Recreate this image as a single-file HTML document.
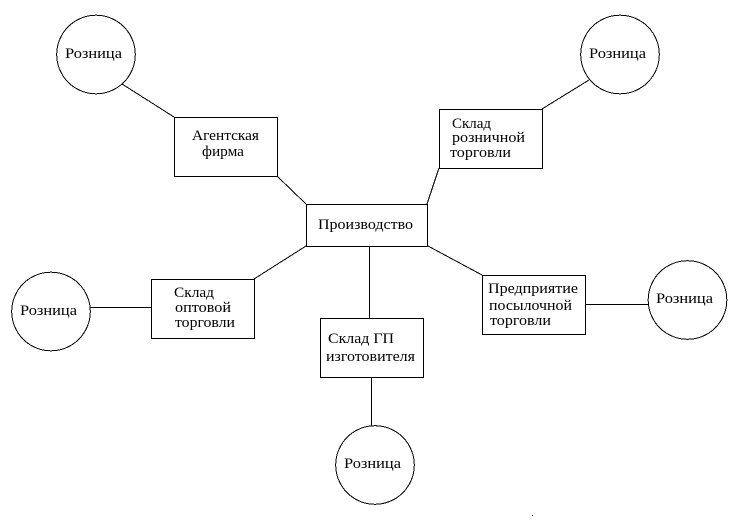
<!DOCTYPE html>
<html lang="ru">
<head>
<meta charset="utf-8">
<title>Диаграмма</title>
<style>
html,body{margin:0;padding:0;background:#fff;}
svg{display:block;}
text{font-family:"Liberation Serif","Noto Serif CJK SC",serif;font-size:14.5px;fill:#000;}
.s{fill:#fff;stroke:#000;stroke-width:1;shape-rendering:crispEdges;}
.c{fill:#fff;stroke:#000;stroke-width:1;shape-rendering:crispEdges;}
.l{stroke:#000;stroke-width:1;fill:none;shape-rendering:crispEdges;}
</style>
</head>
<body>
<svg width="738" height="522" viewBox="0 0 738 522" xmlns="http://www.w3.org/2000/svg">
<rect width="738" height="522" fill="#fff"/>

<line class="l" x1="122" y1="84" x2="174" y2="117"/>
<line class="l" x1="277" y1="176" x2="306" y2="204"/>
<line class="l" x1="439" y1="168" x2="427" y2="204"/>
<line class="l" x1="542" y1="109" x2="589" y2="80"/>
<line class="l" x1="254" y1="279" x2="306" y2="246"/>
<line class="l" x1="90" y1="307.5" x2="152" y2="307.5"/>
<line class="l" x1="369.5" y1="246" x2="369.5" y2="318"/>
<line class="l" x1="428" y1="246" x2="482" y2="275"/>
<line class="l" x1="586" y1="304.5" x2="648" y2="304.5"/>
<line class="l" x1="371.5" y1="377" x2="371.5" y2="426"/>

<circle class="c" cx="96" cy="54.5" r="39.3"/>
<circle class="c" cx="620" cy="54.5" r="39.3"/>
<circle class="c" cx="51" cy="311.5" r="39.3"/>
<circle class="c" cx="687.5" cy="300" r="39.3"/>
<circle class="c" cx="375" cy="465" r="39.3"/>

<rect class="s" x="174.5" y="117.5" width="103" height="59"/>
<rect class="s" x="306.5" y="204.5" width="121" height="42"/>
<rect class="s" x="439.5" y="109.5" width="103" height="59"/>
<rect class="s" x="151.5" y="279.5" width="103" height="59"/>
<rect class="s" x="320.5" y="318.5" width="103" height="59"/>
<rect class="s" x="482.5" y="275.5" width="103" height="59"/>

<rect x="532" y="515" width="1" height="1" fill="#000"/>

<text x="65" y="58" textLength="57" lengthAdjust="spacingAndGlyphs">Розница</text>
<text x="589" y="58" textLength="57" lengthAdjust="spacingAndGlyphs">Розница</text>
<text x="20" y="315" textLength="57" lengthAdjust="spacingAndGlyphs">Розница</text>
<text x="656" y="303" textLength="57" lengthAdjust="spacingAndGlyphs">Розница</text>
<text x="344" y="468" textLength="57" lengthAdjust="spacingAndGlyphs">Розница</text>

<text x="192" y="140" textLength="67" lengthAdjust="spacingAndGlyphs">Агентская</text>
<text x="202" y="156" textLength="42" lengthAdjust="spacingAndGlyphs">фирма</text>

<text x="318" y="229" textLength="95" lengthAdjust="spacingAndGlyphs">Производство</text>

<text x="452" y="128" textLength="39" lengthAdjust="spacingAndGlyphs">Склад</text>
<text x="452" y="142" textLength="73" lengthAdjust="spacingAndGlyphs">розничной</text>
<text x="450" y="157" textLength="61" lengthAdjust="spacingAndGlyphs">торговли</text>

<text x="174" y="297" textLength="40" lengthAdjust="spacingAndGlyphs">Склад</text>
<text x="175" y="312" textLength="56" lengthAdjust="spacingAndGlyphs">оптовой</text>
<text x="175" y="327" textLength="60" lengthAdjust="spacingAndGlyphs">торговли</text>

<text x="328" y="343" textLength="66" lengthAdjust="spacingAndGlyphs">Склад ГП</text>
<text x="326" y="361" textLength="89" lengthAdjust="spacingAndGlyphs">изготовителя</text>

<text x="488" y="293" textLength="90" lengthAdjust="spacingAndGlyphs">Предприятие</text>
<text x="489" y="310" textLength="83" lengthAdjust="spacingAndGlyphs">посылочной</text>
<text x="490" y="325" textLength="61" lengthAdjust="spacingAndGlyphs">торговли</text>
</svg>
</body>
</html>
